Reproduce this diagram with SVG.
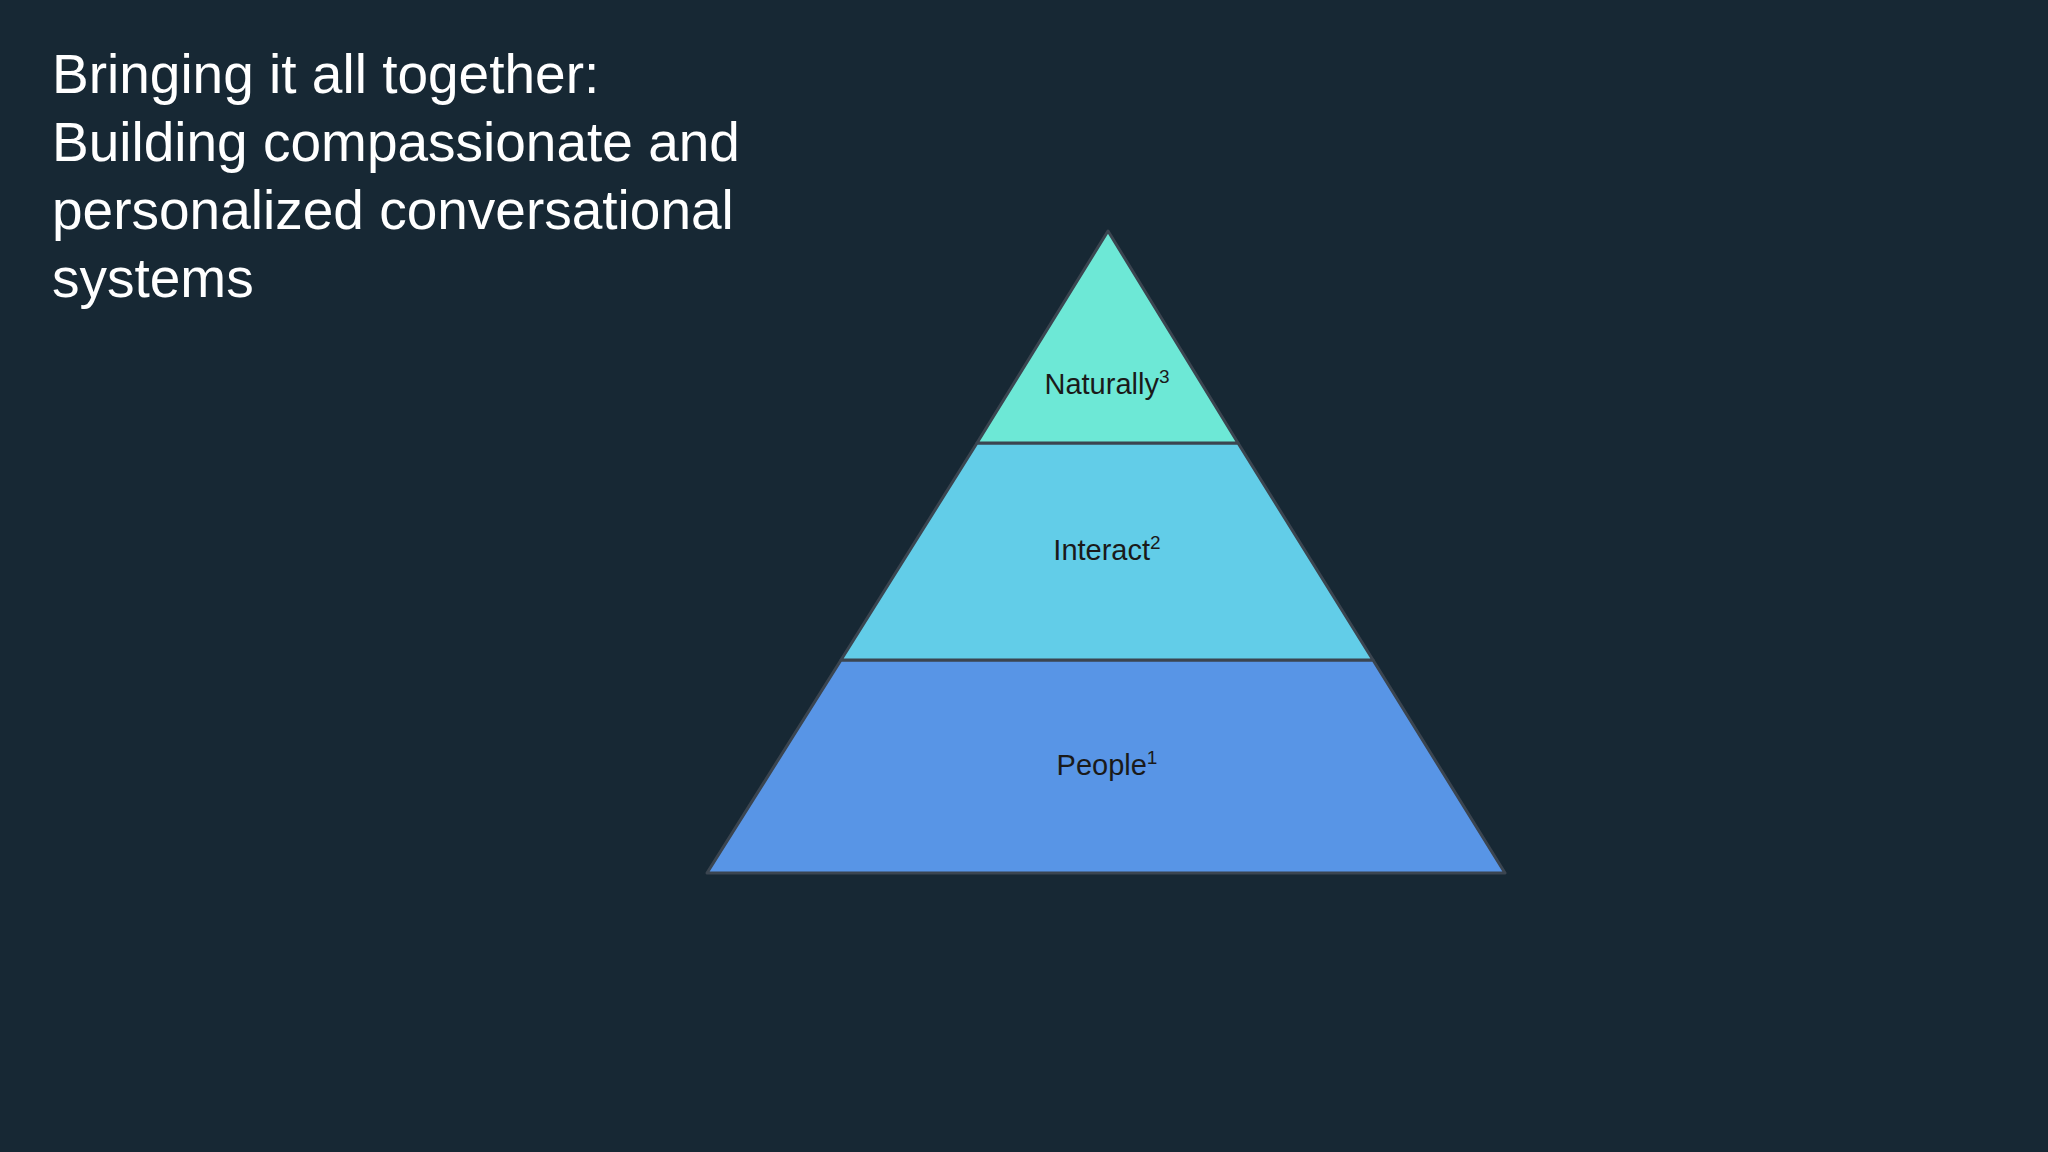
<svg xmlns="http://www.w3.org/2000/svg" width="2048" height="1152" viewBox="0 0 2048 1152">
<style>
.t{font-family:"Liberation Sans",Arial,sans-serif;font-size:55px;fill:#ffffff}
.l{font-family:"Liberation Sans",Arial,sans-serif;font-size:29px;fill:#1a1a1a;text-anchor:middle}
.s{stroke:#3b4550;stroke-width:3;stroke-linejoin:round}
</style>
<rect width="2048" height="1152" fill="#172834"/>
<g id="title">
<text class="t" x="52" y="93">Bringing it all together:</text>
<text class="t" x="52" y="161">Building compassionate and</text>
<text class="t" x="52" y="229">personalized conversational</text>
<text class="t" x="52" y="297">systems</text>
</g>
<g id="people">
<polygon class="s" points="841,660 1373,660 1505,873 707,873" fill="#5895e6"/>
<text class="l" x="1107" y="775">People<tspan font-size="19" dy="-11">1</tspan></text>
</g>
<g id="interact">
<polygon class="s" points="977,443 1238,443 1373,660 841,660" fill="#62cde8"/>
<text class="l" x="1107" y="560">Interact<tspan font-size="19" dy="-11">2</tspan></text>
</g>
<g id="naturally">
<polygon class="s" points="1108,231 1238,443 977,443" fill="#6de8d6"/>
<text class="l" x="1107" y="394">Naturally<tspan font-size="19" dy="-11">3</tspan></text>
</g>
</svg>
